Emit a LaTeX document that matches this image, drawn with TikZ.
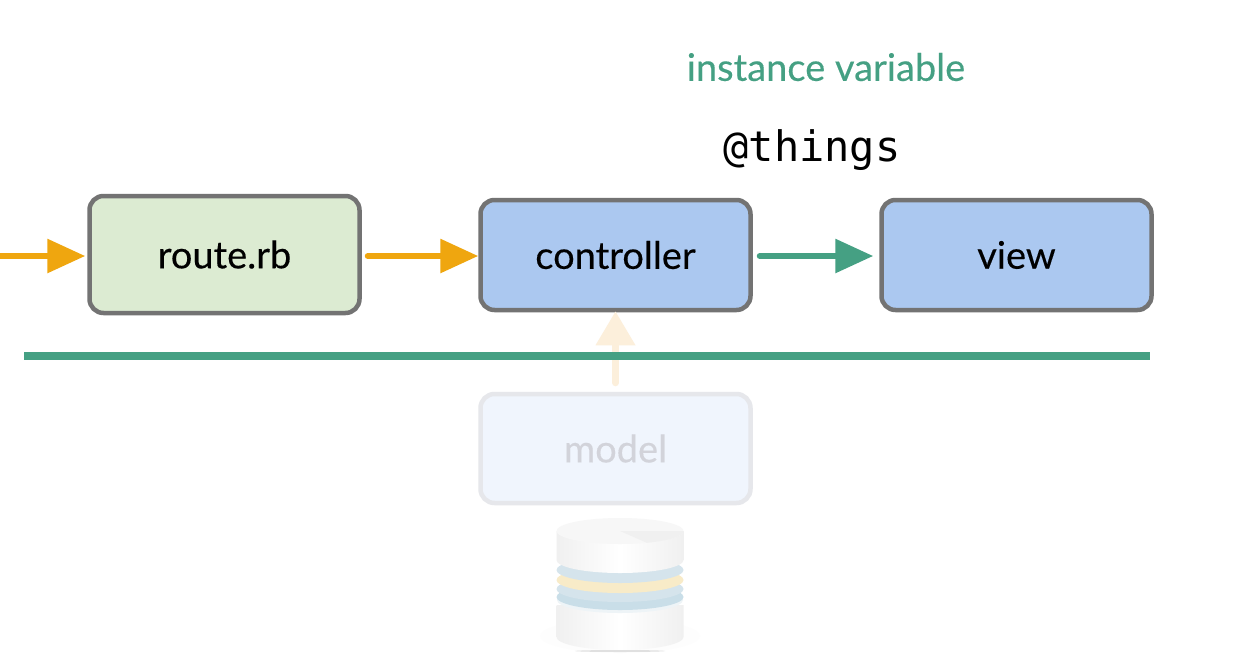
\documentclass[tikz,border=0pt]{standalone}
\usepackage{fontspec}
\setmainfont{Lato}
\setmonofont{DejaVu Sans Mono}
\usetikzlibrary{arrows.meta}
\definecolor{stroke}{HTML}{737373}
\definecolor{orangeA}{HTML}{EFA60F}
\definecolor{greenA}{HTML}{45A083}
\definecolor{blueFill}{HTML}{ABC8F0}
\definecolor{greenFill}{HTML}{DCEBD2}
\definecolor{modelFill}{HTML}{F0F5FD}
\definecolor{modelLine}{HTML}{E6E7EB}
\definecolor{modelText}{HTML}{D2D3DA}
\definecolor{paleArrow}{HTML}{FCEFDB}
\definecolor{bandBlue}{HTML}{D5E4EC}
\definecolor{bandBlueB}{HTML}{C9DEE8}
\definecolor{bandYellow}{HTML}{F8EBC8}
\tikzset{
  boxnode/.style={draw=stroke,line width=4.5pt,rounded corners=14pt,minimum width=270pt,text=black,font=\fontsize{38}{40}\selectfont\addfontfeature{FakeBold=0.3}},
  flow/.style={line width=6pt,line cap=round,-{Triangle[length=38pt,width=33pt]}},
  cyl/.style={left color=white!94!black,right color=white!94!black,middle color=white,draw=none},
  band/.style={draw=none}
}
\begin{document}
\begin{tikzpicture}[x=1pt,y=-1pt]
\useasboundingbox (0,0) rectangle (1240,665);
\fill[white] (0,0) rectangle (1240,665);
% boxes
\node[boxnode,fill=greenFill,minimum height=117pt] (route) at (224.5,254.5) {route.rb};
\node[boxnode,fill=blueFill,minimum height=110pt] (controller) at (615.5,255) {controller};
\node[boxnode,fill=blueFill,minimum height=110pt] (view) at (1016.5,255) {view};
\node[boxnode,draw=modelLine,fill=modelFill,text=modelText,minimum height=109pt] (model) at (615.5,448.5) {model};
% texts
\node[text=greenA,font=\fontsize{38}{40}\selectfont\addfontfeature{FakeBold=0.3}] (label) at (826,67) {instance variable};
\node[text=black,font=\ttfamily\fontsize{42}{44}\selectfont] (things) at (812,150) {@things};
% free ends
\coordinate (inflow) at (0,256);
% connectors
\draw[flow,orangeA,line cap=butt,shorten >=2pt] (inflow) -- (route.west |- inflow);
\draw[flow,orangeA] ([xshift=6pt,yshift=-1.5pt]route.east) -- ([yshift=-1pt]controller.west);
\draw[flow,greenA,shorten >=6pt] ([xshift=7pt,yshift=-1pt]controller.east) -- ([yshift=-1pt]view.west);
\draw[paleArrow,line width=7pt,line cap=round,-{Triangle[length=34pt,width=38pt]},shorten >=-1pt] ([yshift=9pt]model.north) -- (controller.south);
% divider
\coordinate (ruleL) at (24,356);
\coordinate (ruleR) at (1150,356);
\draw[greenA,line width=8pt] (ruleL) -- (ruleR);
% database (drawn bottom to top)
\fill[black!2,opacity=.4] (620,636) ellipse (80 and 17);
\path[cyl] (556.5,605) -- (683.5,605) -- (683.5,637) arc (0:180:63.5 and 13) -- cycle;
\fill[white!88!black] (620,651) ellipse (45 and 1);
\fill[band,fill=bandBlue!40!white] (620,600) ellipse (63 and 13);
\fill[band,fill=bandBlueB] (620,597) ellipse (63.5 and 13);
\fill[band,fill=bandBlue] (620,589) ellipse (63.5 and 13);
\fill[band,fill=bandYellow] (620,580) ellipse (63.5 and 13);
\fill[band,fill=bandBlue] (620,570) ellipse (63.5 and 13);
\path[cyl] (556.5,531) -- (683.5,531) -- (683.5,560) arc (0:180:63.5 and 13) -- cycle;
\fill[white!97!black] (620,531) ellipse (63.5 and 13);
\fill[white!94!black] (620,531) -- (683.5,531) arc (0:65:63.5 and 13) -- cycle;
\end{tikzpicture}
\end{document}
